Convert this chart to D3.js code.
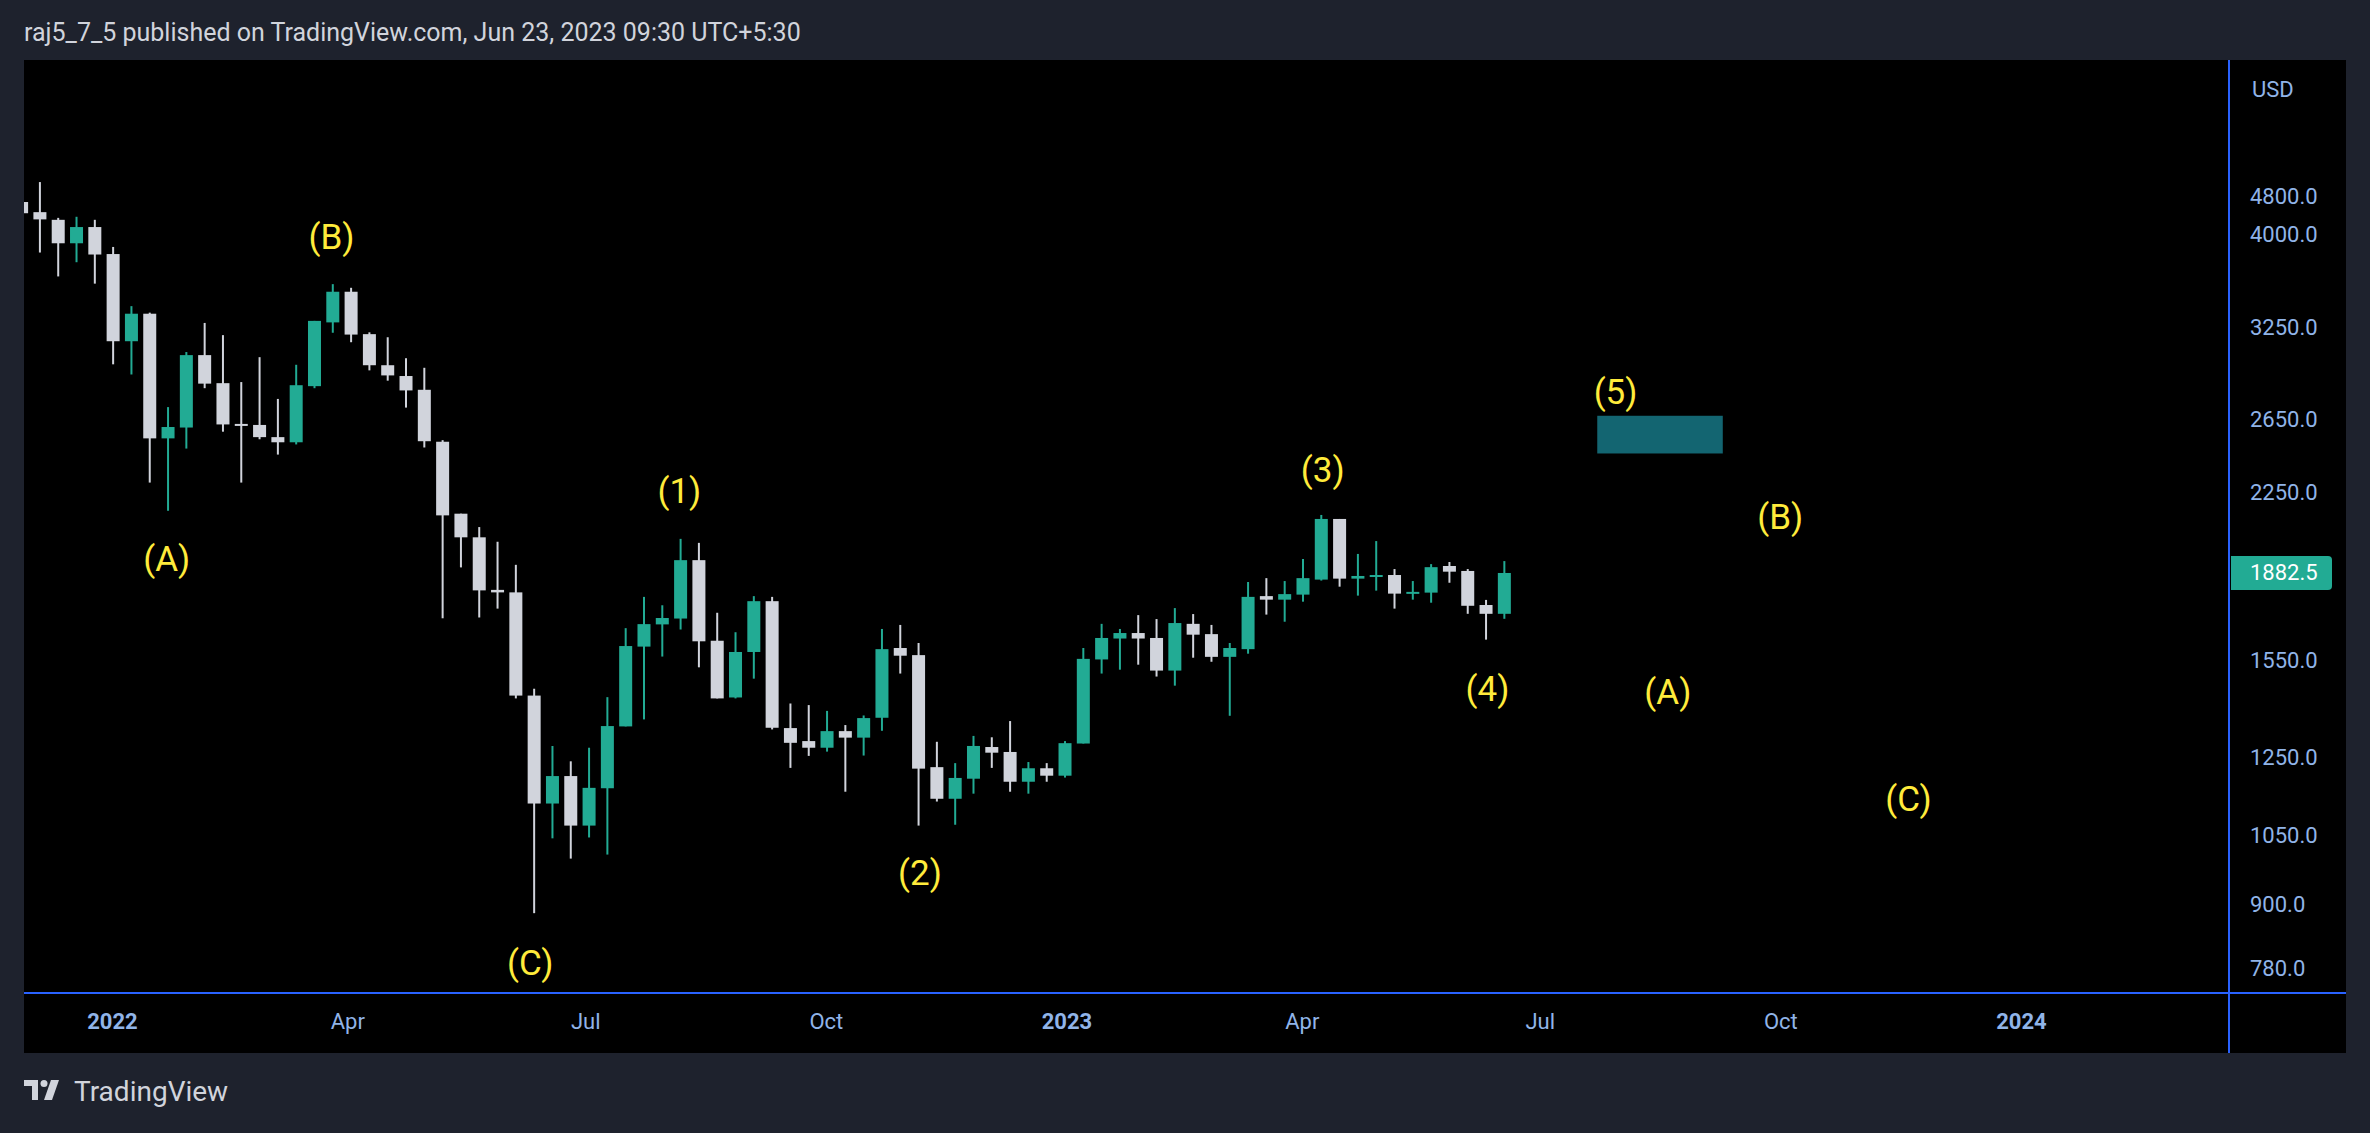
<!DOCTYPE html>
<html><head><meta charset="utf-8">
<script src="https://cdn.jsdelivr.net/npm/d3@7"></script>
<style>html,body{margin:0;padding:0;background:#1e222d;overflow:hidden}</style>
</head><body><svg id="c" width="2370" height="1133"></svg>
<script>
const firstWeek = "2021-11-29";
const opens  = [4298,4202,4131,3921,4065,3828,3153,3352,2540,2602,3057,2872,2623,2617,2547,2518,2853,3288,3520,3203,2989,2918,2830,2521,2148,2038,1813,1803,1433,1127,1198,1073,1166,1338,1598,1679,1701,1937,1619,1427,1579,1768,1333,1295,1276,1324,1305,1364,1593,1568,1222,1139,1191,1278,1264,1183,1219,1199,1288,1553,1627,1647,1629,1515,1681,1643,1562,1589,1788,1774,1794,1855,2123,1859,1867,1874,1798,1802,1912,1891,1753,1719];
const highs  = [4357,4493,4149,4159,4131,3889,3409,3360,2723,3078,3284,3196,2879,3043,2773,2992,3299,3580,3551,3216,3181,3036,2972,2530,2148,2085,2018,1917,1455,1281,1238,1276,1428,1665,1785,1752,2031,2013,1723,1650,1788,1785,1408,1403,1385,1342,1371,1662,1677,1611,1293,1233,1310,1306,1354,1236,1233,1295,1593,1681,1662,1714,1699,1741,1718,1677,1611,1845,1861,1849,1942,2142,2123,1964,2021,1899,1849,1920,1929,1899,1773,1933];
const lows   = [4140,3841,3642,3759,3584,2995,2928,2302,2162,2483,2840,2578,2302,2535,2450,2506,2840,3213,3146,2955,2888,2720,2489,1702,1906,1705,1739,1424,883,1043,997,1045,1006,1338,1359,1563,1660,1526,1424,1424,1488,1329,1220,1253,1265,1157,1254,1325,1505,1073,1132,1075,1152,1220,1157,1152,1183,1194,1288,1505,1518,1535,1495,1465,1559,1545,1370,1573,1716,1689,1766,1851,1826,1790,1810,1739,1774,1762,1842,1719,1623,1700];
const closes = [4192,4135,3921,4065,3824,3153,3352,2540,2605,3057,2869,2620,2614,2547,2518,2859,3299,3520,3200,2989,2922,2826,2524,2140,2038,1811,1803,1433,1127,1198,1073,1167,1339,1600,1680,1703,1937,1617,1424,1579,1768,1334,1290,1276,1324,1305,1363,1589,1566,1218,1139,1193,1281,1262,1183,1219,1199,1289,1555,1629,1647,1627,1515,1684,1641,1562,1593,1785,1774,1796,1861,2123,1859,1870,1874,1798,1805,1907,1888,1750,1719,1882.5];
const tickValues = [4350,4000,3250,2650,2250,1550,1250,1050,900,780];
const tickLabels = ["4800.0","4000.0","3250.0","2650.0","2250.0","1550.0","1250.0","1050.0","900.0","780.0"];
const timeTicks = ["2022-01-01","2022-04-01","2022-07-01","2022-10-01","2023-01-01","2023-04-01","2023-07-01","2023-10-01","2024-01-01"];
const timeLabels = ["2022","Apr","Jul","Oct","2023","Apr","Jul","Oct","2024"];
const waveLabels = ["(A)","(B)","(C)","(1)","(2)","(3)","(4)","(5)","(B)","(A)","(C)"];
const waveDates  = ["2022-01-22","2022-03-26","2022-06-10","2022-08-06","2022-11-06","2023-04-09","2023-06-11","2023-07-30","2023-10-01","2023-08-19","2023-11-19"];
const wavePrices = [1940,3973,790,2258,964,2367,1453,2810,2132,1443,1137];
const boxDates = ["2023-07-23","2023-09-09"];
const boxPrices = [2671,2456];
const lastPrice = 1882.5;

const svg = d3.select("#c");
const L=24,R=2346,T=60,B=1053,AX=2229,AY=993;
const pd = d3.utcParse("%Y-%m-%d");
const x = d3.scaleUtc().domain([pd("2022-01-01"),pd("2024-01-01")]).range([111.9,2020.9]);
const y = d3.scaleLog().domain([780,4000]).range([968.9,234.3]);

svg.append("rect").attr("width",2370).attr("height",1133).attr("fill","#1e222d");
svg.append("text").attr("x",24).attr("y",41).attr("fill","#d1d4dc").attr("font-family","Roboto").attr("font-size",25).text("raj5_7_5 published on TradingView.com, Jun 23, 2023 09:30 UTC+5:30");
svg.append("rect").attr("x",L).attr("y",T).attr("width",R-L).attr("height",B-T).attr("fill","#000");
svg.append("clipPath").attr("id","cp").append("rect").attr("x",L).attr("y",T).attr("width",AX-L).attr("height",AY-T);

const start = pd(firstWeek);
const data = opens.map((o,i)=>({d:d3.utcDay.offset(start,7*i),o,h:highs[i],l:lows[i],c:closes[i]}));
const cx = d => x(d.d) - 4;
const g = svg.append("g").attr("clip-path","url(#cp)");
const bw = 13;
const up="#22ab94", dn="#d1d4dc";
g.selectAll("line.w").data(data).join("line").attr("x1",cx).attr("x2",cx)
 .attr("y1",d=>y(d.h)).attr("y2",d=>y(d.l)).attr("stroke",d=>d.c>=d.o?up:dn).attr("stroke-width",2);
g.selectAll("rect.b").data(data).join("rect").attr("x",d=>cx(d)-bw/2).attr("width",bw)
 .attr("y",d=>y(Math.max(d.o,d.c))).attr("height",d=>Math.max(2,Math.abs(y(d.o)-y(d.c))))
 .attr("fill",d=>d.c>=d.o?up:dn);

g.append("rect").attr("x",x(pd(boxDates[0]))).attr("width",x(pd(boxDates[1]))-x(pd(boxDates[0])))
 .attr("y",y(boxPrices[0])).attr("height",y(boxPrices[1])-y(boxPrices[0])).attr("fill","#136571");

g.selectAll("text.wv").data(waveLabels).join("text").attr("x",(d,i)=>x(pd(waveDates[i]))).attr("y",(d,i)=>y(wavePrices[i]))
 .attr("text-anchor","middle").attr("dominant-baseline","central").attr("fill","#ffeb3b")
 .attr("font-family","Roboto").attr("font-size",35).text(d=>d);

svg.append("line").attr("x1",AX).attr("x2",AX).attr("y1",T).attr("y2",B).attr("stroke","#2962ff").attr("stroke-width",2);
svg.append("line").attr("x1",L).attr("x2",R).attr("y1",AY).attr("y2",AY).attr("stroke","#2962ff").attr("stroke-width",2);

const yAxis = d3.axisRight(y).tickValues(tickValues).tickSize(0).tickFormat((d,i)=>tickLabels[i]);
const ya = svg.append("g").attr("transform",`translate(${AX+21},0)`).call(yAxis);
ya.select(".domain").remove();
ya.selectAll("text").attr("fill","#90b4e8").attr("font-family","Roboto").attr("font-size",22).attr("x",0);
svg.append("text").attr("x",2252).attr("y",97).attr("fill","#90b4e8").attr("font-family","Roboto").attr("font-size",22).text("USD");

const xAxis = d3.axisBottom(x).tickValues(timeTicks.map(pd)).tickSize(0).tickFormat((d,i)=>timeLabels[i]);
const xa = svg.append("g").attr("transform",`translate(0,${AY+17})`).call(xAxis);
xa.select(".domain").remove();
xa.selectAll("text").attr("fill","#90b4e8").attr("font-family","Roboto").attr("font-size",22)
 .attr("font-weight",(d,i)=>/^\d/.test(timeLabels[i])?"bold":"normal");

const ly = y(lastPrice);
svg.append("path").attr("d",`M${AX+2},${ly-17}H${AX+99}q4,0 4,4v26q0,4 -4,4H${AX+2}Z`).attr("fill","#22ab94");
svg.append("text").attr("x",AX+21).attr("y",ly).attr("dominant-baseline","central").attr("fill","#fff")
 .attr("font-family","Roboto").attr("font-size",22).text(lastPrice.toFixed(1));

const lg = svg.append("g").attr("transform","translate(24,1080)").attr("fill","#d1d4dc");
lg.append("path").attr("d","M0,0H14V20H8V6H0Z");
lg.append("circle").attr("cx",20).attr("cy",3.5).attr("r",3.5);
lg.append("path").attr("d","M27,0H35L28,20H20Z");
svg.append("text").attr("x",74).attr("y",1101).attr("fill","#d1d4dc").attr("font-family","Roboto").attr("font-size",28).text("TradingView");
</script></body></html>
